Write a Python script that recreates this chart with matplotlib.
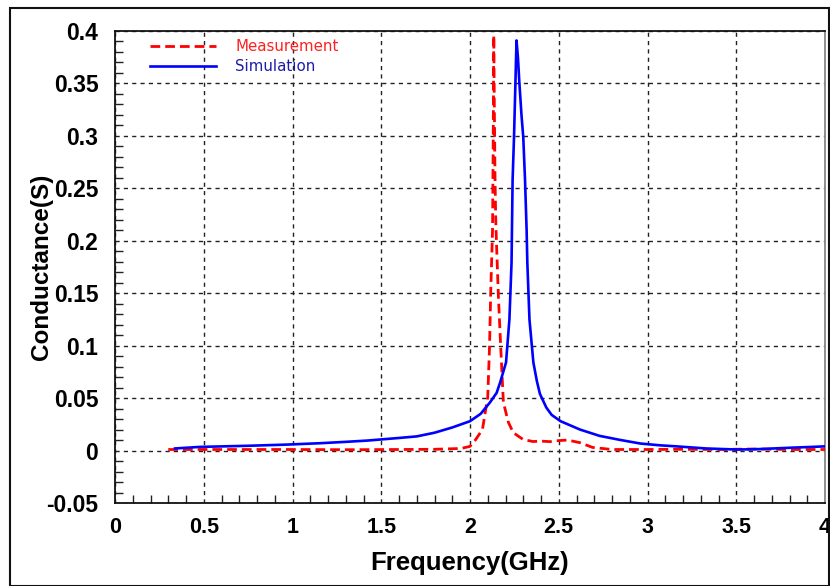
import matplotlib
matplotlib.use("Agg")
import matplotlib.pyplot as plt
from matplotlib.patches import Rectangle
from matplotlib.ticker import MultipleLocator
from matplotlib import font_manager

# ---------------- data ----------------
sim_freq = [0.338, 0.48, 0.74, 0.97, 1.155, 1.3, 1.42, 1.6, 1.7, 1.8, 1.9, 2.0,
            2.06, 2.113, 2.15, 2.17, 2.203, 2.222, 2.234, 2.24, 2.248, 2.256, 2.262,
            2.27, 2.278, 2.29, 2.30, 2.31, 2.319, 2.323, 2.335, 2.357, 2.377, 2.394,
            2.43, 2.46, 2.51, 2.62, 2.73, 2.85, 2.96, 3.07, 3.18, 3.33, 3.5, 3.6,
            3.71, 3.82, 3.93, 4.0]
sim_g = [0.002, 0.0035, 0.0045, 0.0057, 0.007, 0.0083, 0.0095, 0.012, 0.0135, 0.017,
         0.022, 0.028, 0.035, 0.046, 0.055, 0.065, 0.084, 0.125, 0.179, 0.258, 0.299,
         0.351, 0.391, 0.375, 0.351, 0.32, 0.299, 0.258, 0.21, 0.179, 0.125, 0.084,
         0.066, 0.054, 0.041, 0.034, 0.028, 0.02, 0.014, 0.010, 0.0067, 0.005, 0.0038,
         0.002, 0.001, 0.0012, 0.002, 0.0028, 0.0035, 0.004]

meas_freq = [0.30, 0.5, 0.8, 1.0, 1.3, 1.6, 1.8, 1.95, 2.0, 2.03, 2.07, 2.10, 2.11,
             2.117, 2.127, 2.131, 2.134, 2.137, 2.141, 2.145, 2.15, 2.16, 2.173,
             2.188, 2.216, 2.244, 2.30, 2.355, 2.4, 2.45, 2.5, 2.55, 2.62, 2.69,
             2.8, 3.0, 3.2, 3.4, 3.6, 3.8, 4.0]
meas_g = [0.001, 0.001, 0.001, 0.001, 0.0008, 0.001, 0.0012, 0.002, 0.004, 0.01, 0.02,
          0.051, 0.099, 0.153, 0.21, 0.30, 0.396, 0.33, 0.26, 0.22, 0.194, 0.147,
          0.099, 0.046, 0.027, 0.017, 0.0105, 0.0086, 0.009, 0.0085, 0.0095, 0.010,
          0.0075, 0.003, 0.001, 0.001, 0.0012, 0.001, 0.0015, 0.001, 0.001]

xticks = [0, 0.5, 1, 1.5, 2, 2.5, 3, 3.5, 4]
xtick_labels = ["0", "0.5", "1", "1.5", "2", "2.5", "3", "3.5", "4"]
yticks = [-0.05, 0, 0.05, 0.1, 0.15, 0.2, 0.25, 0.3, 0.35, 0.4]
ytick_labels = ["-0.05", "0", "0.05", "0.1", "0.15", "0.2", "0.25", "0.3", "0.35", "0.4"]

# ---------------- fonts ----------------
names = {f.name for f in font_manager.fontManager.ttflist}
narrow = "Liberation Sans Narrow" if "Liberation Sans Narrow" in names else "Liberation Sans"

fig = plt.figure(figsize=(8.3, 5.86), dpi=100)
fig.patch.set_facecolor("white")
ax = fig.add_axes([115/830, 1-503/586, 710/830, 472/586])

ax.plot(meas_freq, meas_g, color="#ff0000", lw=2.0, linestyle=(0, (3.5, 1.8)),
        label="Measurement", zorder=3)
ax.plot(sim_freq, sim_g, color="#0000ff", lw=1.9, label="Simulation", zorder=4)

ax.set_xlim(0, 4)
ax.set_ylim(-0.05, 0.4)
ax.set_xticks(xticks)
ax.set_xticklabels(xtick_labels, fontfamily=narrow, fontweight="bold", fontsize=15.5)
ax.set_yticks(yticks)
ax.set_yticklabels(ytick_labels, fontfamily="Liberation Sans", fontweight="bold", fontsize=16.5)
ax.xaxis.set_minor_locator(MultipleLocator(0.1))
ax.yaxis.set_minor_locator(MultipleLocator(0.01))
ax.tick_params(which="both", direction="in", color="#222222", width=1.0)
ax.tick_params(which="major", length=0)
ax.tick_params(axis="x", which="major", pad=10)
ax.tick_params(which="minor", length=6)
ax.tick_params(axis="y", which="major", pad=12)
ax.tick_params(top=False, right=False, which="both")

ax.grid(True, which="major", color="#222222", linestyle=(0, (3, 3)), lw=1.0)
for s in ["left", "bottom", "top"]:
    ax.spines[s].set_color("#111111")
    ax.spines[s].set_linewidth(1.3)
ax.spines["right"].set_color("#888888")
ax.spines["right"].set_linewidth(1.3)

ax.set_xlabel("Frequency(GHz)", fontfamily=narrow, fontweight="bold", fontsize=18.5)
ax.set_ylabel("Conductance(S)", fontfamily="Liberation Sans", fontweight="bold", fontsize=17.5)
ax.xaxis.set_label_coords(0.5, -0.127)
ax.yaxis.set_label_coords(-0.103, 0.5)
ax.xaxis.label.set_va("center")
ax.yaxis.label.set_va("center")

leg = ax.legend(loc="upper left", bbox_to_anchor=(0.03, 1.012), frameon=False,
                prop={"family": "DejaVu Sans", "size": 10.8}, handlelength=4.4,
                handletextpad=1.3, labelspacing=0.35)
leg.get_texts()[0].set_color("#ff2020")
leg.get_texts()[1].set_color("#1c1ca8")

fig.patches.append(Rectangle((10/830, 0), 819/830, 578/586, transform=fig.transFigure,
                             fill=False, edgecolor="#111111", lw=1.5))

fig.savefig("out.png", dpi=100)
